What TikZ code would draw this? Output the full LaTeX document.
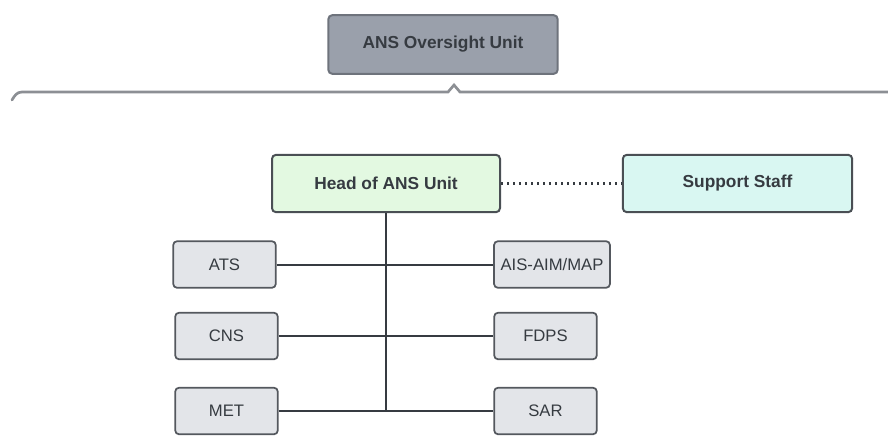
\documentclass[tikz,border=0pt]{standalone}
\usepackage{fontspec}
\setmainfont{Liberation Sans}
\definecolor{inkgray}{HTML}{363B41}
\definecolor{oversightfill}{HTML}{9AA0AB}
\definecolor{oversightdraw}{HTML}{6E737C}
\definecolor{headfill}{HTML}{E3F9E1}
\definecolor{staffill}{HTML}{D9F7F2}
\definecolor{branchfill}{HTML}{E3E5E9}
\definecolor{bracegray}{HTML}{8C8F94}
\tikzset{unitbox/.style={
  rectangle,rounded corners=3pt,
  draw=inkgray!90,line width=1.5pt,
  inner sep=0pt,text=inkgray,
  minimum width=171pt,minimum height=43pt,
  font=\fontsize{13}{15}\selectfont\bfseries}}
\tikzset{branch/.style={
  rectangle,rounded corners=3pt,
  draw=inkgray!85,line width=1.3pt,fill=branchfill,
  inner sep=0pt,text=inkgray,
  minimum width=77pt,minimum height=35pt,
  font=\fontsize{12.5}{15}\selectfont}}
\tikzset{link/.style={draw=inkgray,line width=1.5pt}}

\begin{document}
\begin{tikzpicture}[x=0.75pt,y=-0.75pt]
  \useasboundingbox (0,0) rectangle (888,436);
  \node[unitbox,fill=oversightfill,draw=oversightdraw,minimum width=172pt,minimum height=44pt] (oversight) at (443,44.5) {ANS Oversight Unit};
  % brace under the oversight unit
  \draw[bracegray,line width=2pt,line cap=round]
    (12,100) to[out=-90+150,in=180] (22,92) -- (448,92) -- (454,85) -- (460,92) -- (895,92);
  \node[unitbox,fill=headfill] (head) at (386,183.5) {Head of ANS Unit};
  \node[unitbox,fill=staffill,minimum width=172pt] (staff) at (737.5,183.5) {Support Staff};
  \draw[link,line width=1.6pt,dash pattern=on 1.5pt off 3pt] (head) -- (staff);
  \foreach \n/\p/\l in {
      ats/{(224.5,264.5)}/ATS,
      cns/{(226.5,336)}/CNS,
      met/{(226.5,411)}/MET,
      fdps/{(545.5,336)}/FDPS,
      sar/{(545.5,411)}/SAR }
    \node[branch] (\n) at \p {\l};
  \node[branch,minimum width=87pt] (ais) at (552,264.5) {AIS-AIM/MAP};
  \draw[link] (head.south) -- (head.south |- met.east);
  \foreach \m/\n in {ats/ais,cns/fdps,met/sar}
    \draw[link] (\m) -- (\n);
\end{tikzpicture}
\end{document}
